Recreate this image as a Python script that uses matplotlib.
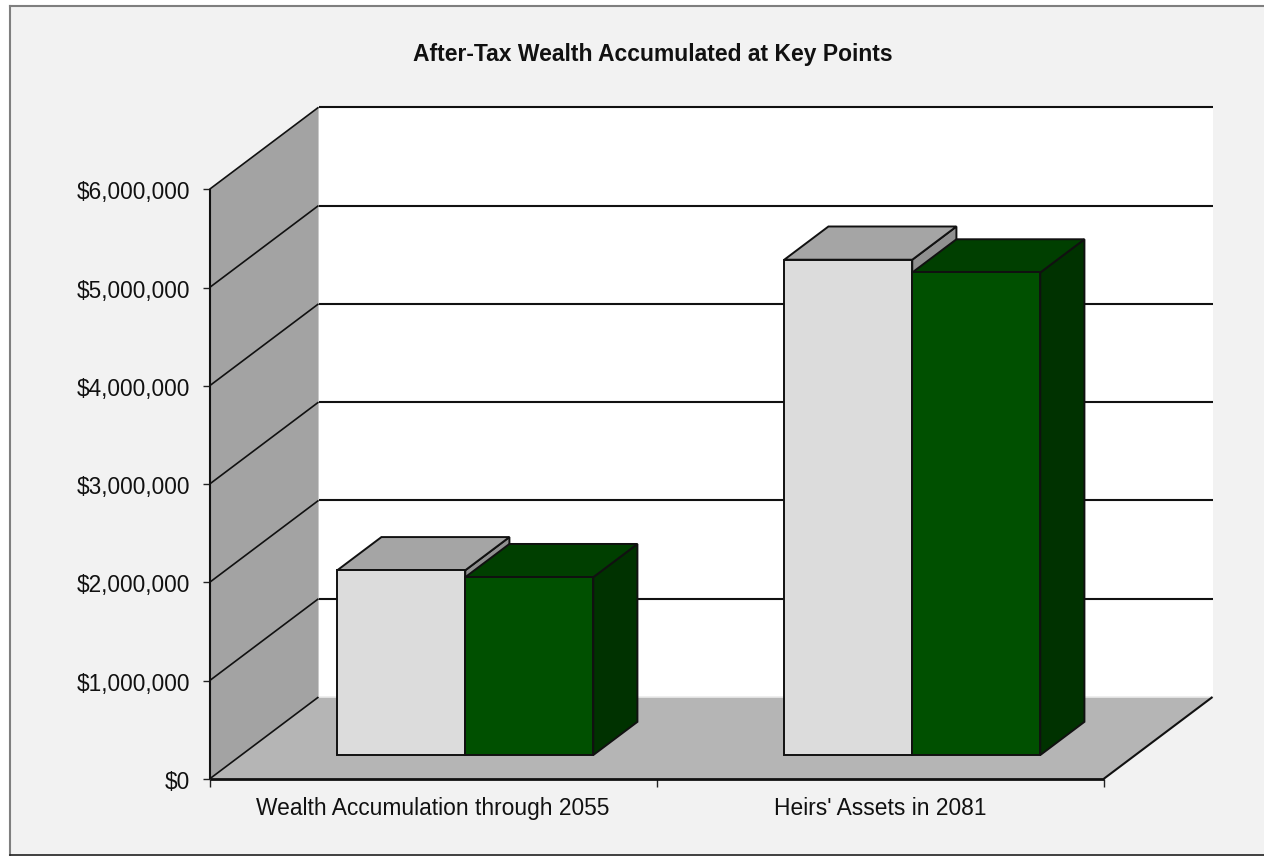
import matplotlib
matplotlib.use('Agg')
import matplotlib.pyplot as plt
from matplotlib.patches import Polygon, Rectangle
from matplotlib.ticker import FuncFormatter
from matplotlib.transforms import ScaledTranslation

plt.rcParams['font.family'] = ['Liberation Sans', 'DejaVu Sans']

title = 'After-Tax Wealth Accumulated at Key Points'
categories = ['Wealth Accumulation through 2055', "Heirs' Assets in 2081"]
series_a = [1880000, 5040000]
series_b = [1810000, 4910000]
y_ticks = [0, 1000000, 2000000, 3000000, 4000000, 5000000, 6000000]

W, H = 1264, 856
# front plane of the chart box, in pixels
left, right, top, bottom = 209.5, 1103.5, 189.3, 779.0
# how far the back wall is shifted from the front plane, in pixels
depth_px = (109.0, 82.0)

fig = plt.figure(figsize=(W / 100, H / 100), dpi=100, facecolor='white')
fig.patches.append(Rectangle((9.5 / W, 0), 1, 1 - 6 / H, transform=fig.transFigure,
                             facecolor='#F2F2F2', edgecolor='none', zorder=-10))
fig.add_artist(plt.Line2D([9.7 / W, 9.7 / W], [1 / H, 1 - 6 / H], color='#7F7F7F', lw=1.5))
fig.add_artist(plt.Line2D([9.7 / W, 1], [1 - 6 / H, 1 - 6 / H], color='#7F7F7F', lw=1.5))
fig.add_artist(plt.Line2D([9.7 / W, 1], [1 / H, 1 / H], color='#222222', lw=1.2))

ax = fig.add_axes([left / W, 1 - bottom / H, (right - left) / W, (bottom - top) / H])
ax.set_xlim(0, len(categories))
ax.set_ylim(0, 6000000)
ax.patch.set_visible(False)
for s in ax.spines.values():
    s.set_visible(False)

# oblique projection: z=0 is the front plane, z=1 the back wall
px_x = len(categories) / (right - left)
px_y = 6000000 / (bottom - top)
dx = depth_px[0] * px_x
dy = depth_px[1] * px_y


def proj(x, y, z):
    return (x + z * dx, y + z * dy)


def face(points, color, zorder, lw=1.4, edge='#111111'):
    ax.add_patch(Polygon([proj(*p) for p in points], closed=True, facecolor=color,
                         edgecolor=edge, linewidth=lw, joinstyle='miter',
                         clip_on=False, zorder=zorder))


def line(p, q, lw=1.3, zorder=3):
    a, b = proj(*p), proj(*q)
    ax.plot([a[0], b[0]], [a[1], b[1]], color='#111111', lw=lw, clip_on=False,
            zorder=zorder, solid_capstyle='butt')


x_end = len(categories)
y_max = y_ticks[-1]

# back wall, side wall and floor
face([(0, 0, 1), (x_end, 0, 1), (x_end, y_max, 1), (0, y_max, 1)], 'white', 1, edge='none')
face([(0, 0, 0), (0, 0, 1), (0, y_max, 1), (0, y_max, 0)], '#A3A3A3', 2, edge='none')
face([(0, 0, 0), (x_end, 0, 0), (x_end, 0, 1), (0, 0, 1)], '#B5B5B5', 2, edge='none')
ax.plot(*zip(proj(0, 0, 1), proj(x_end, 0, 1)), color='#EBEBEB', lw=1.2, clip_on=False, zorder=2.5)

# gridlines run over the side wall and along the back wall
for v in y_ticks[1:]:
    line((0, v, 0), (0, v, 1), lw=1.2)
    line((0, v, 1), (x_end, v, 1), lw=1.5)
line((0, 0, 0), (0, 0, 1), lw=1.2)
line((0, 0, 0), (0, y_max, 0), lw=1.5)
line((0, 0, 0), (x_end, 0, 0), lw=2.0)
line((x_end, 0, 0), (x_end, 0, 1), lw=1.5)

# bars
bar_w = 128.0 * px_x
z0, z1 = 0.292, 0.697
colors_a = ('#DCDCDC', '#A5A5A5', '#909090')
colors_b = ('#005000', '#003F00', '#003200')

for i in range(len(categories)):
    c = i + 0.5 + 0.001
    for j, (vals, cols) in enumerate([(series_a, colors_a), (series_b, colors_b)]):
        x0 = c + (j - 1) * bar_w
        x1 = x0 + bar_w
        v = vals[i]
        zo = 5 + j
        face([(x1, 0, z0), (x1, 0, z1), (x1, v, z1), (x1, v, z0)], cols[2], zo)
        face([(x0, v, z0), (x1, v, z0), (x1, v, z1), (x0, v, z1)], cols[1], zo)
        face([(x0, 0, z0), (x1, 0, z0), (x1, v, z0), (x0, v, z0)], cols[0], zo)

ax.set_yticks(y_ticks)
ax.yaxis.set_major_formatter(FuncFormatter(lambda v, _: f'${v:,.0f}'))
ax.set_xticks(range(len(categories) + 1))
ax.set_xticklabels([])
ax.set_xticks([i + 0.5 for i in range(len(categories))], categories, minor=True)
ax.tick_params(axis='y', length=5, width=1, color='#222222', labelsize=16.3, pad=9, labelcolor='#111111')
ax.tick_params(axis='x', which='major', length=5.5, width=1, color='#222222')
ax.tick_params(axis='x', which='minor', length=0, labelsize=16.4, pad=13, labelcolor='#111111')

# nudge the value labels down a pixel so the digits sit centred on the ticks
nudge = ScaledTranslation(0, -1 / 100, fig.dpi_scale_trans)
for lab in ax.get_yticklabels():
    lab.set_transform(lab.get_transform() + nudge)

fig.text(653 / W, 1 - 54 / H, title, ha='center', va='center', fontsize=16.5, fontweight='bold', color='#111111')

fig.savefig('out.png', dpi=100, facecolor=fig.get_facecolor())
